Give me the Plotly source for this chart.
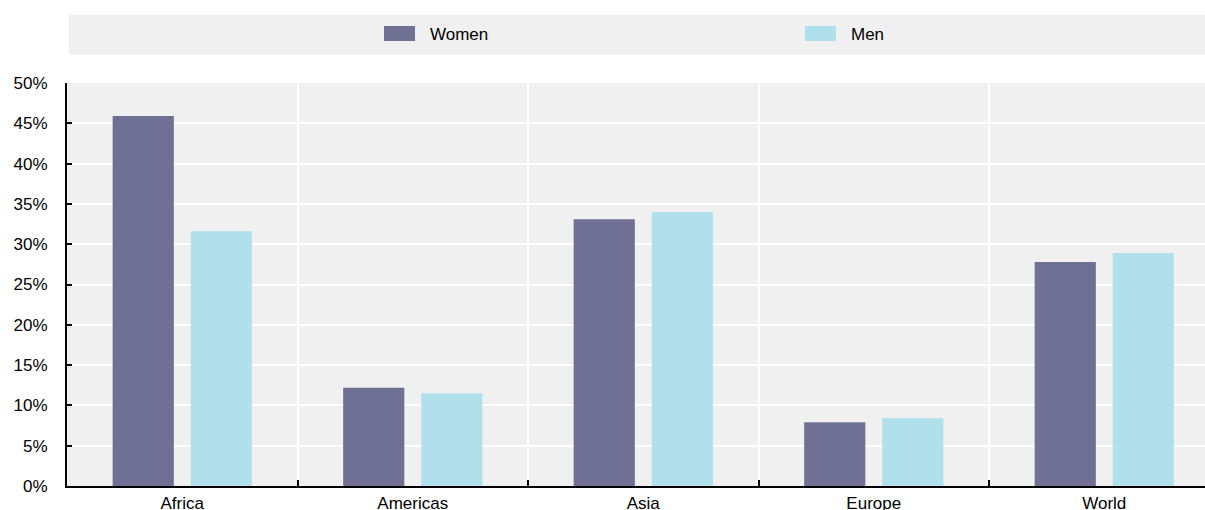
import plotly.graph_objects as go

categories = ["Africa", "Americas", "Asia", "Europe", "World"]
women = [45.9, 12.2, 33.1, 7.9, 27.8]
men = [31.6, 11.5, 34.0, 8.4, 28.9]
series_names = ["Women", "Men"]
series_colors = ["#6f7093", "#b0e0ec"]
y_ticks = [0, 5, 10, 15, 20, 25, 30, 35, 40, 45, 50]
y_tick_labels = [f"{v}%" for v in y_ticks]

W, H = 1205, 510
L, R, T, B = 67, 0, 83, 24
pw, ph = W - L - R, H - T - B

FONT = "Liberation Sans, Arial, sans-serif"

fig = go.Figure()
for name, vals, col in zip(series_names, [women, men], series_colors):
    fig.add_trace(go.Bar(x=categories, y=vals, name=name, marker_color=col,
                         marker_line_width=0, showlegend=False))

def px_x(p):
    return (p - L) / pw

def px_y(p):
    return (H - B - p) / ph

shapes = [
    dict(type="rect", xref="paper", yref="paper", x0=px_x(69), x1=px_x(1205),
         y0=px_y(55), y1=px_y(15), fillcolor="#f0f0f0", line_width=0, layer="below"),
]
annotations = []
legend_x = [384, 805]
for name, col, lx in zip(series_names, series_colors, legend_x):
    shapes.append(dict(type="rect", xref="paper", yref="paper", x0=px_x(lx), x1=px_x(lx + 31),
                       y0=px_y(41), y1=px_y(26), fillcolor=col, line_width=0))
    annotations.append(dict(text=name, xref="paper", yref="paper", x=px_x(lx + 44), y=px_y(34),
                            xanchor="left", yanchor="middle", showarrow=False,
                            font=dict(size=17, color="#000000", family=FONT)))

fig.update_layout(
    width=W, height=H,
    margin=dict(l=L, r=R, t=T, b=B, pad=0),
    paper_bgcolor="#ffffff",
    plot_bgcolor="#f0f0f0",
    barmode="group",
    bargap=0.323,
    bargroupgap=0.216,
    font=dict(family=FONT, size=17, color="#000000"),
    shapes=shapes,
    annotations=annotations,
)
fig.update_xaxes(
    type="category", range=[-0.5, 4.437], tickson="boundaries",
    showgrid=True, gridcolor="#ffffff", gridwidth=2,
    showline=True, linecolor="#000000", linewidth=2,
    ticks="inside", ticklen=6, tickcolor="#000000", tickwidth=2,
    automargin=False, ticklabelstandoff=1,
)
fig.update_yaxes(
    range=[0, 50], tickvals=y_ticks, ticktext=y_tick_labels,
    showgrid=True, gridcolor="#ffffff", gridwidth=2, zeroline=False,
    showline=True, linecolor="#000000", linewidth=2,
    ticks="inside", ticklen=5, tickcolor="#000000", tickwidth=2,
    automargin=False, ticklabelstandoff=14,
)

fig.write_html("out.html")
